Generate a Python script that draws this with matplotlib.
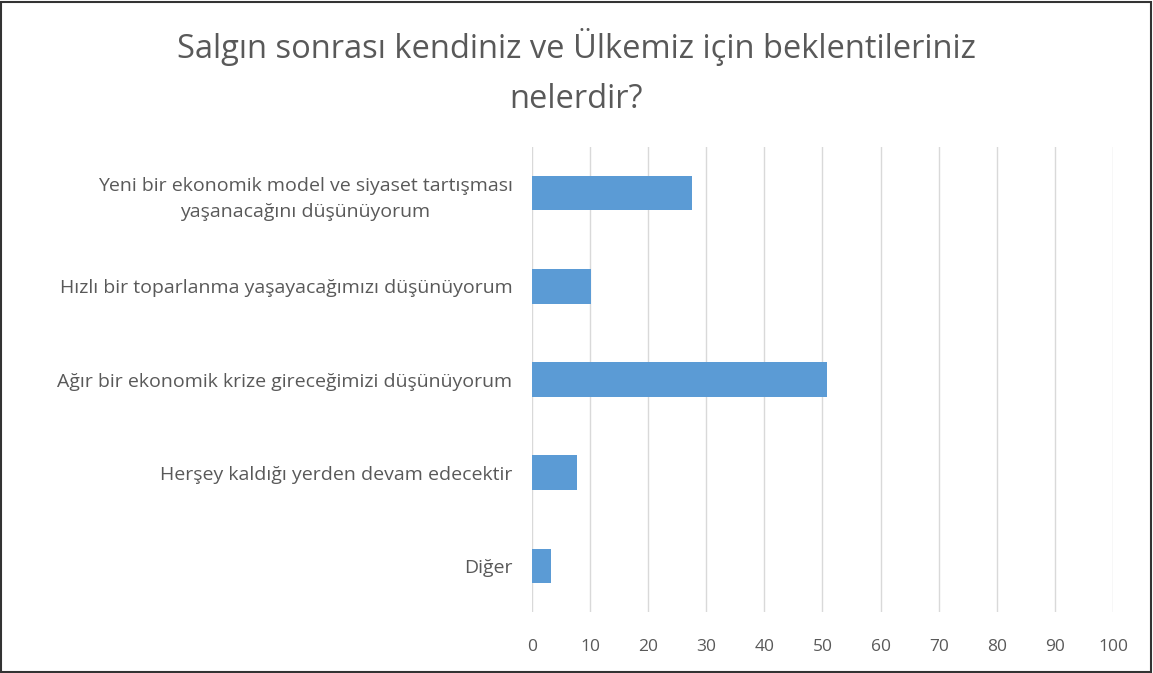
import matplotlib
matplotlib.use("Agg")
import matplotlib.pyplot as plt
from matplotlib.patches import Rectangle

# veriler
categories = [
    "Yeni bir ekonomik model ve siyaset tartışması\nyaşanacağını düşünüyorum",
    "Hızlı bir toparlanma yaşayacağımızı düşünüyorum",
    "Ağır bir ekonomik krize gireceğimizi düşünüyorum",
    "Herşey kaldığı yerden devam edecektir",
    "Diğer",
]
values = [27.5, 10.1, 50.7, 7.7, 3.2]
x_ticks = [0, 10, 20, 30, 40, 50, 60, 70, 80, 90, 100]

text_color = "#595959"
plt.rcParams["font.family"] = ["Open Sans", "DejaVu Sans"]

fig = plt.figure(figsize=(11.53, 6.73), dpi=100)
ax = fig.add_axes([0.4614, 0.0899, 0.5039, 0.6924])

ypos = list(range(len(categories)))
ax.barh(ypos, values, height=0.37, color="#5b9bd5", zorder=3)
ax.set_ylim(len(categories) - 0.5, -0.5)
ax.set_xlim(0, 100)
ax.set_xticks(x_ticks)
ax.set_yticks(ypos)
ax.set_yticklabels(categories, multialignment="center", linespacing=1.55)

ax.grid(axis="x", color="#d9d9d9", linewidth=1, zorder=0)
for s in ax.spines.values():
    s.set_visible(False)
ax.tick_params(axis="both", length=0, colors=text_color)
ax.tick_params(axis="y", pad=14, labelsize=14)
ax.tick_params(axis="x", pad=19, labelsize=12.5)

fig.text(0.5, 0.893, "Salgın sonrası kendiniz ve Ülkemiz için beklentileriniz\nnelerdir?",
         ha="center", va="center", fontsize=23.5, color=text_color, linespacing=1.65)

# çerçeve
fig.patches.append(Rectangle((0.001, 0.002), 0.997, 0.995, transform=fig.transFigure,
                             fill=False, edgecolor="#333333", linewidth=1.5))

fig.savefig("out.png", dpi=100)
